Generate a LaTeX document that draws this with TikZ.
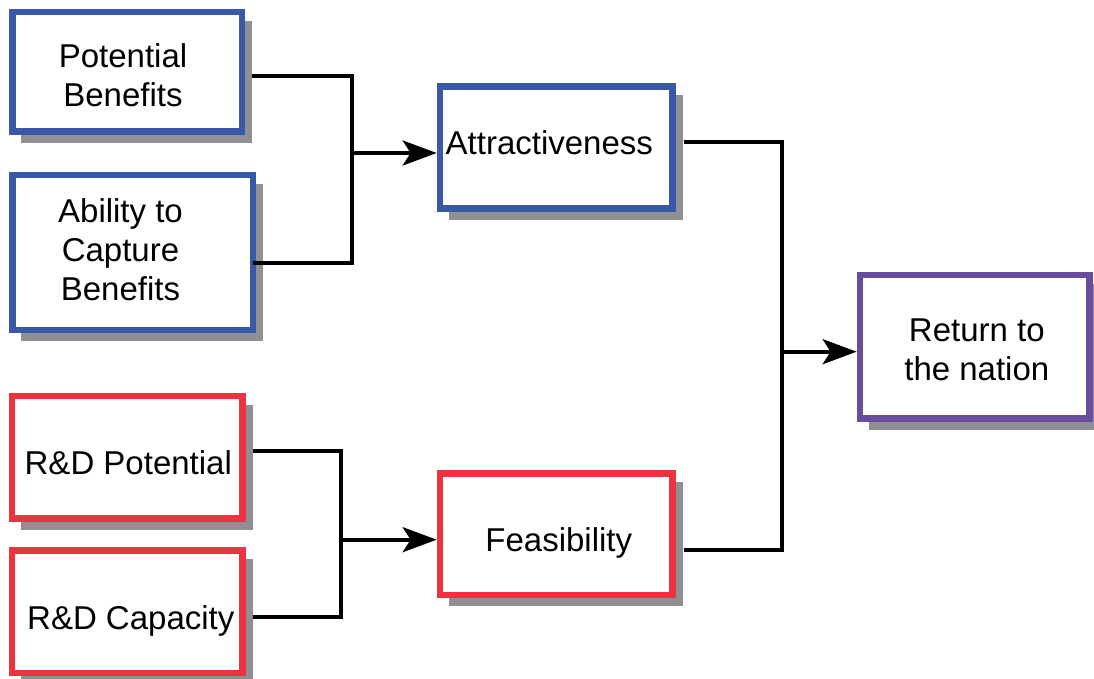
\documentclass[tikz,border=0pt]{standalone}
\usepackage{fontspec}
\setmainfont{Liberation Sans}
\usetikzlibrary{arrows.meta,backgrounds,calc}
\definecolor{boxblue}{HTML}{3A58A8}
\definecolor{boxred}{HTML}{EE3240}
\definecolor{boxpurple}{HTML}{6A4C9C}
\definecolor{shadowgray}{HTML}{8E9094}
\tikzset{
  box/.style={draw, fill=white, line width=6.5pt, inner sep=0pt},
  boxtext/.style={align=center, inner sep=0pt, font=\fontsize{33}{39}\selectfont},
  conn/.style={line width=3.8pt, black},
  arr/.style={conn, -{Stealth[length=34pt,width=25pt,inset=8pt]}}
}
\begin{document}
\begin{tikzpicture}[x=1pt,y=-1pt]
\useasboundingbox (0,0) rectangle (1094,679);

% input boxes
\node[box, draw=boxblue, minimum width=229.5pt, minimum height=119.5pt] (pb) at (127,72) {};
\node[box, draw=boxblue, minimum width=240.5pt, minimum height=154.5pt] (ac) at (132.5,252.5) {};
\node[box, draw=boxred, minimum width=230.2pt, minimum height=122.5pt] (rdp) at (127.3,457.2) {};
\node[box, draw=boxred, minimum width=230.2pt, minimum height=122.2pt] (rdc) at (127.3,611.7) {};

% intermediate boxes
\node[box, draw=boxblue, minimum width=232.8pt, minimum height=121.9pt] (att) at (556.3,147.5) {};
\node[box, draw=boxred, minimum width=232.8pt, minimum height=121.8pt] (fea) at (556.3,534.2) {};

% result box
\node[box, draw=boxpurple, minimum width=229.8pt, minimum height=143.5pt] (ret) at (974.8,346.7) {};

% box labels
\node[boxtext] (pbt) at ([xshift=-4pt,yshift=-3pt]pb.center) {Potential\\Benefits};
\node[boxtext] (act) at ([xshift=-12pt,yshift=3pt]ac.center) {Ability to\\Capture\\Benefits};
\node[boxtext] (rdpt) at ([xshift=1pt,yshift=-6pt]rdp.center) {R\&D Potential};
\node[boxtext] (rdct) at ([xshift=3.5pt,yshift=-9pt]rdc.center) {R\&D Capacity};
\node[boxtext] (attt) at ([xshift=-7pt,yshift=5pt]att.center) {Attractiveness};
\node[boxtext] (feat) at ([xshift=2.5pt,yshift=-9pt]fea.center) {Feasibility};
\node[boxtext] (rett) at ([xshift=2pt,yshift=-3.5pt]ret.center) {Return to\\the nation};

% drop shadows behind every box
\begin{scope}[on background layer]
  \foreach \n in {pb,ac,rdp,rdc,att,fea,ret}
    \fill[shadowgray] ($(\n.north west)+(12,12)$) rectangle ($(\n.south east)+(7,8)$);
\end{scope}

% junction points
\coordinate (jt) at (352,153);
\coordinate (jb) at (340.7,539.7);
\coordinate (jr) at (782,351.7);

% top merge
\draw[conn] ([xshift=7pt,yshift=-4pt]pb.east) -| (jt);
\draw[conn] ([xshift=-3.3pt,yshift=-10.5pt]ac.east) -| (jt);
\draw[arr] (jt) -- (att.west |- jt);

% bottom merge
\draw[conn] ([xshift=7pt,yshift=6.2pt]rdp.east) -| (jb);
\draw[conn] ([xshift=7pt,yshift=-5.6pt]rdc.east) -| (jb);
\draw[arr] (jb) -- (fea.west |- jb);

% final merge
\draw[conn] ([xshift=8pt,yshift=5.8pt]att.east) -| (jr);
\draw[conn] ([xshift=8pt,yshift=-15.8pt]fea.east) -| (jr);
\draw[arr] (jr) -- (ret.west |- jr);
\end{tikzpicture}
\end{document}
